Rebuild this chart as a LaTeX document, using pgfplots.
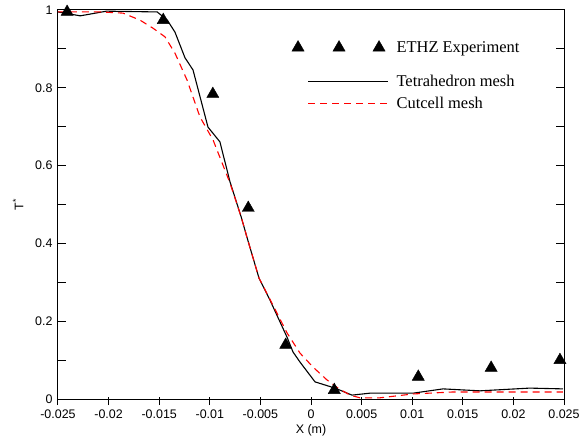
\documentclass[border=0pt]{standalone}
\usepackage{fontspec}
\setmainfont{Liberation Sans}
\newfontfamily\legfont{Liberation Serif}
\usepackage{pgfplots}
\pgfplotsset{compat=1.18}
\pgfplotsset{
    mytri legend/.style={legend image code/.code={%
        \draw[##1] plot[only marks] coordinates {(5bp,0bp) (46bp,0bp) (86bp,0bp)};
        \path (0bp,-20bp) (101bp,5bp);}},
    myline legend/.style={legend image code/.code={%
        \draw[##1] (15bp,0bp) -- (95bp,0bp);
        \path (0bp,0bp) (101bp,0bp);}},
}

\begin{document}
\begin{tikzpicture}
\begin{axis}[
    scale only axis,
    width=506bp, height=389bp,
    xmin=-0.025, xmax=0.025,
    ymin=0, ymax=1,
    axis line style={line width=1bp},
    xtick={-0.025,-0.02,...,0.0251},
    xticklabels={-0.025,-0.02,-0.015,-0.01,-0.005,0,0.005,0.01,0.015,0.02,0.025},
    scaled x ticks=false,
    ytick={0,0.2,0.4,0.6,0.8,1},
    yticklabels={0,0.2,0.4,0.6,0.8,1},
    minor ytick={0.1,0.3,0.5,0.7,0.9},
    xtick pos=bottom,
    ytick pos=both,
    tick align=inside,
    major tick length=8bp,
    minor tick length=8bp,
    tick style={black, line width=1bp},
    x tick style={yshift=-6bp},
    ticklabel style={font=\fontsize{12.5}{14}\selectfont},
    x tick label style={yshift=-7bp},
    y tick label style={xshift=-2bp},
    /pgf/number format/assume math mode=true,
    xlabel={X (m)},
    ylabel={T\textsuperscript{*}},
    label style={font=\fontsize{12.5}{14}\selectfont},
    xlabel style={yshift=1bp},
    ylabel style={yshift=5bp},
    legend style={draw=none, fill=none, at={(rel axis cs:0.462,0.925)}, anchor=north west,
        inner sep=0pt, row sep=5bp, font=\legfont\fontsize{16.5}{18}\selectfont},
    legend cell align=left,
    clip=false,
]
\addplot[only marks, mark=triangle*, mark size=7bp, black, mytri legend] coordinates {
    (-0.0241,0.995) (-0.0146,0.974) (-0.0097,0.784) (-0.0062,0.491) (-0.0025,0.139)
    (0.0023,0.023) (0.0106,0.057) (0.0178,0.080) (0.0246,0.100)
};
\addlegendentry{ETHZ Experiment}

\addplot[black, line width=1.1bp, myline legend] coordinates {
    (-0.025,0.995) (-0.0228,0.985) (-0.0202,0.997) (-0.0152,0.995) (-0.0142,0.974)
    (-0.01344,0.943) (-0.01245,0.877) (-0.01166,0.846) (-0.01018,0.699) (-0.0090,0.661)
    (-0.0080,0.558) (-0.0069,0.468) (-0.00633,0.416) (-0.00514,0.311) (-0.00405,0.254)
    (-0.00237,0.159) (-0.00178,0.121) (-0.00109,0.095) (0.0004,0.044) (0.00237,0.028)
    (0.00405,0.010) (0.00583,0.015) (0.01008,0.015) (0.01304,0.026) (0.0167,0.021)
    (0.0216,0.028) (0.0249,0.026)
};
\addlegendentry{Tetrahedron mesh}

\addplot[red, line width=1.1bp, dash pattern=on 7bp off 5bp, myline legend] coordinates {
    (-0.025,0.995) (-0.0208,0.995) (-0.01857,0.992) (-0.0169,0.974) (-0.0156,0.953)
    (-0.01443,0.931) (-0.01344,0.889) (-0.01225,0.820) (-0.01097,0.725) (-0.00968,0.666)
    (-0.0080,0.555) (-0.0069,0.468) (-0.00633,0.416) (-0.00514,0.311) (-0.00405,0.256)
    (-0.00237,0.170) (-0.00109,0.118) (0.0002,0.082) (0.00158,0.049) (0.00267,0.028)
    (0.00385,0.010) (0.00484,0.003) (0.0068,0.003) (0.0101,0.013) (0.0140,0.018)
    (0.0184,0.018) (0.0249,0.018)
};
\addlegendentry{Cutcell mesh}
\end{axis}
\pgfresetboundingbox
\path[use as bounding box] (-58bp,-37bp) rectangle (524bp,399bp);
\end{tikzpicture}
\end{document}
